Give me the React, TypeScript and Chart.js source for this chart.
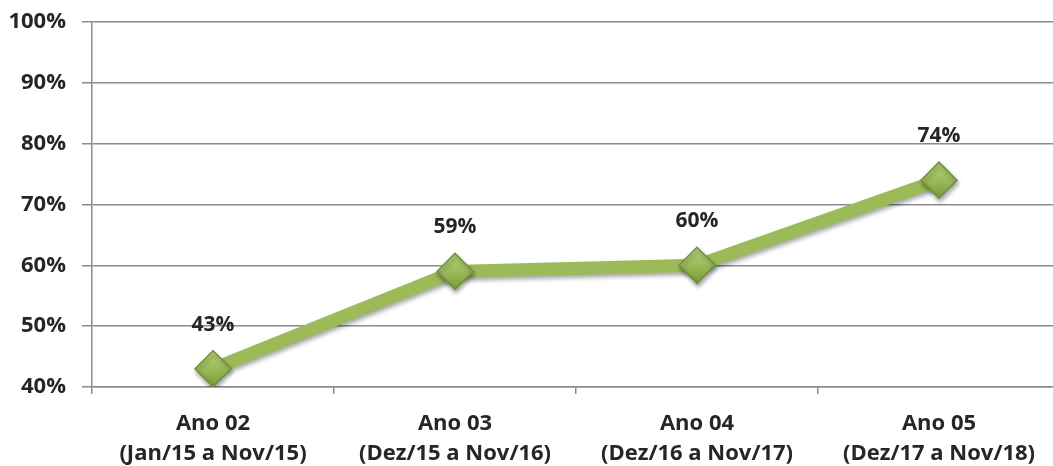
import React, { useEffect, useRef } from "react";
import { Chart, registerables } from "chart.js";

Chart.register(...registerables);

const categories: string[][] = [
  ["Ano 02", "(Jan/15 a Nov/15)"],
  ["Ano 03", "(Dez/15 a Nov/16)"],
  ["Ano 04", "(Dez/16 a Nov/17)"],
  ["Ano 05", "(Dez/17 a Nov/18)"],
];
const values: number[] = [43, 59, 60, 74];
const yTicks: number[] = [40, 50, 60, 70, 80, 90, 100];

const FONT = "'Open Sans', Lato, sans-serif";
const TEXT = "#262626";
const GRID = "#8c8c8c";
const LINE = "#9BBB59";
const R = 18;

const shadowPlugin = {
  id: "shadowPlugin",
  beforeDatasetsDraw(chart: any) {
    const ctx = chart.ctx;
    ctx.save();
    ctx.shadowColor = "rgba(0,0,0,0.35)";
    ctx.shadowBlur = 4;
    ctx.shadowOffsetX = 1;
    ctx.shadowOffsetY = 3;
  },
  afterDatasetsDraw(chart: any) {
    chart.ctx.restore();
  },
};

const labelPlugin = {
  id: "labelPlugin",
  afterDraw(chart: any) {
    const ctx = chart.ctx;
    const meta = chart.getDatasetMeta(0);
    ctx.save();
    ctx.font = `bold 21px ${FONT}`;
    ctx.fillStyle = TEXT;
    ctx.textAlign = "center";
    ctx.textBaseline = "middle";
    meta.data.forEach((el: any, i: number) => {
      ctx.fillText(`${values[i]}%`, el.x, el.y - 44);
    });
    ctx.restore();
  },
};

export default function App() {
  const ref = useRef<HTMLCanvasElement>(null);
  useEffect(() => {
    document.body.style.margin = "0";
    document.body.style.overflow = "hidden";
    const chart = new Chart(ref.current!, {
      type: "line",
      data: {
        labels: categories,
        datasets: [
          {
            data: values,
            borderColor: LINE,
            borderWidth: 13,
            pointStyle: "rectRot",
            pointRadius: R,
            pointHoverRadius: R,
            pointBorderWidth: 1.5,
            pointBorderColor: "#71903a",
            pointBackgroundColor: (c: any) => {
              const ch = c.chart;
              const ys = ch.scales && ch.scales.y;
              if (!ys || c.raw == null) return LINE;
              const py = ys.getPixelForValue(c.raw);
              if (!isFinite(py)) return LINE;
              const g = ch.ctx.createLinearGradient(0, py - R, 0, py + R);
              g.addColorStop(0, "#b6d27c");
              g.addColorStop(0.5, "#9bbb59");
              g.addColorStop(1, "#7a9a3c");
              return g;
            },
            tension: 0,
          },
        ],
      },
      options: {
        animation: false,
        responsive: false,
        maintainAspectRatio: false,
        layout: { autoPadding: false, padding: { top: 22, right: 0, left: 0, bottom: 0 } },
        plugins: {
          legend: { display: false },
          tooltip: { enabled: false },
          title: { display: false },
        },
        scales: {
          x: {
            offset: true,
            grid: {
              offset: true,
              drawOnChartArea: false,
              drawTicks: true,
              tickLength: 7,
              color: GRID,
              lineWidth: 1.5,
            },
            border: { display: true, color: GRID, width: 1.5 },
            ticks: {
              color: TEXT,
              padding: 15,
              maxRotation: 0,
              autoSkip: false,
              font: { family: FONT, size: 22, weight: "bold", lineHeight: 1.36 },
            },
            afterFit(s: any) {
              s.height = 79;
              s.paddingLeft = 0;
              s.paddingRight = 0;
              s.paddingTop = 0;
              s.paddingBottom = 0;
            },
          },
          y: {
            min: 40,
            max: 100,
            afterBuildTicks(s: any) {
              s.ticks = yTicks.map((v) => ({ value: v }));
            },
            grid: {
              color: GRID,
              lineWidth: 1.5,
              tickLength: 10,
            },
            border: { display: true, color: GRID, width: 1.5 },
            ticks: {
              color: TEXT,
              padding: 16,
              font: { family: FONT, size: 22, weight: "bold" },
              callback: (v: any) => `${v}%`,
            },
            afterFit(s: any) {
              s.width = 92;
              s.paddingLeft = 0;
              s.paddingRight = 0;
              s.paddingTop = 0;
              s.paddingBottom = 0;
            },
          },
        },
      },
      plugins: [shadowPlugin, labelPlugin],
    });
    return () => chart.destroy();
  }, []);
  return (
    <div style={{ position: "absolute", left: 0, top: 0, width: 1060, height: 466 }}>
      <canvas ref={ref} width={1060} height={466} style={{ width: 1060, height: 466 }} />
    </div>
  );
}
